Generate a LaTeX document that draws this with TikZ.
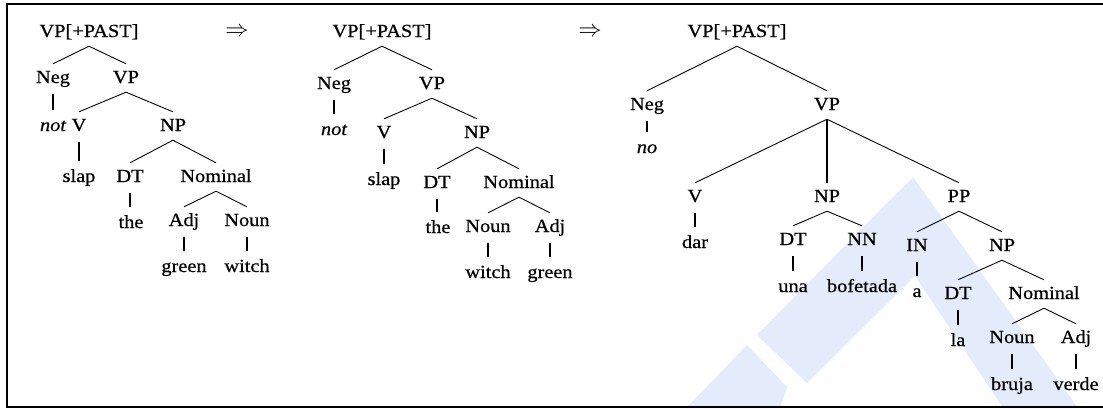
\documentclass[tikz,border=0pt]{standalone}
\usepackage{fontspec}
\setmainfont{Liberation Serif}[FakeStretch=1.1,FakeBold=0.6]
\definecolor{wm}{RGB}{228,235,250}
\begin{document}
\begin{tikzpicture}[x=1pt,y=-1pt,
  cat/.style={anchor=base, font=\fontsize{18.5}{21}\selectfont, text height=12pt, text depth=2pt, inner xsep=1pt, inner ysep=7pt},
  iword/.style={cat, font=\fontsize{18.5}{21}\selectfont\itshape},
  arrowsym/.style={cat, font=\fontsize{18.5}{21}\selectfont},
  branch/.style={line width=0.9pt},
  unary/.style={line width=1.8pt, shorten <=2pt, shorten >=2pt},
  frame/.style={line width=2pt}]
\useasboundingbox (0,0) rectangle (1103,408);
% watermark
\fill[wm] (913,177) -- (1078,408) -- (1003,408) -- (915,276) -- (807,383) -- (757,335) -- cycle;
\fill[wm] (747,345) -- (787,387) -- (780,408) -- (686,408) -- cycle;
% frame
\draw[frame] (1104,4) -- (7,4) -- (7,407) -- (1104,407);

% ---------- tree 1
\node[cat] (r1) at (89,37) {VP[+PAST]};
\node[cat] (neg1) at (53,83) {Neg};
\node[cat] (vp1) at (126,83) {VP};
\node[iword] (not1) at (53,131) {not};
\node[cat] (v1) at (79,131) {V};
\node[cat] (np1) at (173,131) {NP};
\node[cat] (slap1) at (79,182) {slap};
\node[cat] (dt1) at (130,182) {DT};
\node[cat] (nom1) at (216,182) {Nominal};
\node[cat] (the1) at (131,228) {the};
\node[cat] (adj1) at (184,226) {Adj};
\node[cat] (noun1) at (247,226) {Noun};
\node[cat] (green1) at (184,272) {green};
\node[cat] (witch1) at (247,272) {witch};
\draw[branch] (r1.south) -- (neg1.north);
\draw[branch] (r1.south) -- (vp1.north);
\draw[unary] (neg1.south) -- (neg1.south |- not1.north);
\draw[branch] (vp1.south) -- (v1.north);
\draw[branch] (vp1.south) -- (np1.north);
\draw[unary] (v1.south) -- (v1.south |- slap1.north);
\draw[branch] (np1.south) -- (dt1.north);
\draw[branch] (np1.south) -- (nom1.north);
\draw[unary] (dt1.south) -- (dt1.south |- the1.north);
\draw[branch] (nom1.south) -- (adj1.north);
\draw[branch] (nom1.south) -- (noun1.north);
\draw[unary] (adj1.south) -- (adj1.south |- green1.north);
\draw[unary] (noun1.south) -- (noun1.south |- witch1.north);

\node[arrowsym] (arr1) at (237,36) {\scalebox{1.35}{$\Rightarrow$}};

% ---------- tree 2
\node[cat] (r2) at (382,37) {VP[+PAST]};
\node[cat] (neg2) at (334,89) {Neg};
\node[cat] (vp2) at (432,89) {VP};
\node[iword] (not2) at (334,135) {not};
\node[cat] (v2) at (384,138) {V};
\node[cat] (np2) at (477,138) {NP};
\node[cat] (slap2) at (384,185) {slap};
\node[cat] (dt2) at (437,188) {DT};
\node[cat] (nom2) at (519,188) {Nominal};
\node[cat] (the2) at (438,233) {the};
\node[cat] (noun2) at (488,232) {Noun};
\node[cat] (adj2) at (550,232) {Adj};
\node[cat] (witch2) at (488,278) {witch};
\node[cat] (green2) at (550,278) {green};
\draw[branch] (r2.south) -- (neg2.north);
\draw[branch] (r2.south) -- (vp2.north);
\draw[unary] (neg2.south) -- (neg2.south |- not2.north);
\draw[branch] (vp2.south) -- (v2.north);
\draw[branch] (vp2.south) -- (np2.north);
\draw[unary] (v2.south) -- (v2.south |- slap2.north);
\draw[branch] (np2.south) -- (dt2.north);
\draw[branch] (np2.south) -- (nom2.north);
\draw[unary] (dt2.south) -- (dt2.south |- the2.north);
\draw[branch] (nom2.south) -- (noun2.north);
\draw[branch] (nom2.south) -- (adj2.north);
\draw[unary] (noun2.south) -- (noun2.south |- witch2.north);
\draw[unary] (adj2.south) -- (adj2.south |- green2.north);

\node[arrowsym] (arr2) at (590,36) {\scalebox{1.35}{$\Rightarrow$}};

% ---------- tree 3
\node[cat] (r3) at (737,37) {VP[+PAST]};
\node[cat] (neg3) at (647,110) {Neg};
\node[cat] (vp3) at (827,110) {VP};
\node[iword] (no3) at (647,153) {no};
\node[cat] (v3) at (695,202) {V};
\node[cat] (np3) at (827,202) {NP};
\node[cat] (pp3) at (959,202) {PP};
\node[cat] (dar3) at (695,248) {dar};
\node[cat] (dt3) at (793,245) {DT};
\node[cat] (nn3) at (862,245) {NN};
\node[cat] (in3) at (917,251) {IN};
\node[cat] (npb3) at (1002,251) {NP};
\node[cat] (una3) at (793,292) {una};
\node[cat] (bof3) at (862,292) {bofetada};
\node[cat] (a3) at (917,297) {a};
\node[cat] (dtb3) at (958,299) {DT};
\node[cat] (nom3) at (1044,299) {Nominal};
\node[cat] (la3) at (958,346) {la};
\node[cat] (noun3) at (1012,343) {Noun};
\node[cat] (adj3) at (1076,343) {Adj};
\node[cat] (bruja3) at (1012,390) {bruja};
\node[cat] (verde3) at (1076,390) {verde};
\draw[branch] (r3.south) -- (neg3.north);
\draw[branch] (r3.south) -- (vp3.north);
\draw[unary] (neg3.south) -- (neg3.south |- no3.north);
\draw[branch] (vp3.south) -- (v3.north);
\draw[line width=1.8pt] (vp3.south) -- (np3.north);
\draw[branch] (vp3.south) -- (pp3.north);
\draw[unary] (v3.south) -- (v3.south |- dar3.north);
\draw[branch] (np3.south) -- (dt3.north);
\draw[branch] (np3.south) -- (nn3.north);
\draw[unary] (dt3.south) -- (dt3.south |- una3.north);
\draw[unary, line width=2.4pt] (nn3.south) -- (nn3.south |- bof3.north);
\draw[branch] (pp3.south) -- (in3.north);
\draw[branch] (pp3.south) -- (npb3.north);
\draw[unary] (in3.south) -- (in3.south |- a3.north);
\draw[branch] (npb3.south) -- (dtb3.north);
\draw[branch] (npb3.south) -- (nom3.north);
\draw[unary] (dtb3.south) -- (dtb3.south |- la3.north);
\draw[branch] (nom3.south) -- (noun3.north);
\draw[branch] (nom3.south) -- (adj3.north);
\draw[unary] (noun3.south) -- (noun3.south |- bruja3.north);
\draw[unary] (adj3.south) -- (adj3.south |- verde3.north);
\end{tikzpicture}
\end{document}
